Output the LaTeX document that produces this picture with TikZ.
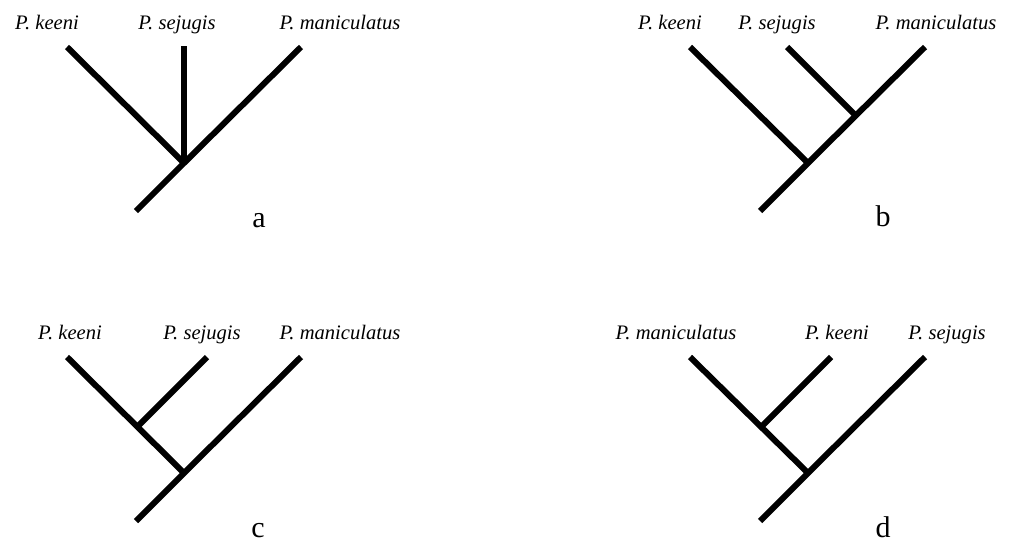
\documentclass[tikz,border=0pt]{standalone}
\usepackage{fontspec}
\setmainfont{Liberation Serif}
\begin{document}
\begin{tikzpicture}[x=1pt,y=-1pt,
  branch/.style={line width=6pt,line cap=butt,line join=miter},
  taxon/.style={anchor=base,inner sep=0pt,font=\fontsize{20.6}{24}\selectfont\itshape},
  panel/.style={anchor=base,inner sep=0pt,font=\fontsize{30}{36}\selectfont}]
\useasboundingbox (0,0) rectangle (1009,544);
% ---- panel a ----
\coordinate (a1) at (67,47);
\coordinate (a2) at (184,46);
\coordinate (a3) at (301,47);
\coordinate (an) at (184,163);
\coordinate (ar) at (136,211);
\draw[branch] (a1) -- (an);
\draw[branch] (a2) -- (an);
\draw[branch] (a3) -- (an) -- (ar);
\node[taxon] (ta1) at (47,29) {P. keeni};
\node[taxon] (ta2) at (177,29) {P. sejugis};
\node[taxon] (ta3) at (340,29) {P. maniculatus};
\node[panel] (la) at (259,227) {a};
% ---- panel b ----
\coordinate (b1) at (690,47);
\coordinate (b2) at (787,47);
\coordinate (b3) at (925,47);
\coordinate (bi) at (855,115);
\coordinate (bn) at (808,163);
\coordinate (br) at (760,211);
\draw[branch] (b1) -- (bn);
\draw[branch] (b2) -- (bi);
\draw[branch] (b3) -- (bn) -- (br);
\node[taxon] (tb1) at (670,29) {P. keeni};
\node[taxon] (tb2) at (777,29) {P. sejugis};
\node[taxon] (tb3) at (936,29) {P. maniculatus};
\node[panel] (lb) at (883,226) {b};
% ---- panel c ----
\coordinate (c1) at (67,357);
\coordinate (c2) at (207,357);
\coordinate (c3) at (301,357);
\coordinate (ci) at (137,427);
\coordinate (cn) at (184,473);
\coordinate (cr) at (136,521);
\draw[branch] (c1) -- (cn);
\draw[branch] (c2) -- (ci);
\draw[branch] (c3) -- (cn) -- (cr);
\node[taxon] (tc1) at (70,339) {P. keeni};
\node[taxon] (tc2) at (202,339) {P. sejugis};
\node[taxon] (tc3) at (340,339) {P. maniculatus};
\node[panel] (lc) at (258,537) {c};
% ---- panel d ----
\coordinate (d1) at (690,357);
\coordinate (d2) at (831,357);
\coordinate (d3) at (925,357);
\coordinate (di) at (761,427);
\coordinate (dn) at (808,473);
\coordinate (dr) at (760,521);
\draw[branch] (d1) -- (dn);
\draw[branch] (d2) -- (di);
\draw[branch] (d3) -- (dn) -- (dr);
\node[taxon] (td1) at (676,339) {P. maniculatus};
\node[taxon] (td2) at (837,339) {P. keeni};
\node[taxon] (td3) at (947,339) {P. sejugis};
\node[panel] (ld) at (883,537) {d};
\end{tikzpicture}
\end{document}
